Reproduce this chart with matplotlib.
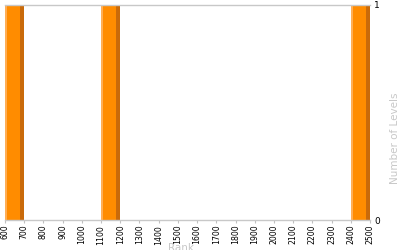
import matplotlib
matplotlib.use('Agg')
import matplotlib.pyplot as plt

# data
rank_start = [600, 1100, 2400]
levels = [1, 1, 1]
bin_width = 100
x_ticks = list(range(600, 2600, 100))

fig = plt.figure(figsize=(4, 2.5), dpi=100)
ax = fig.add_axes([0.0125, 0.12, 0.9125, 0.86])

# each bar drawn as light edge, main body and dark edge to mimic the shading
for x0, h in zip(rank_start, levels):
    ax.bar(x0, h, width=bin_width, align='edge', color='#ff8c00', linewidth=0)
    ax.bar(x0, h, width=bin_width * 0.12, align='edge', color='#ffae55', linewidth=0)
    ax.bar(x0 + bin_width * 0.8, h, width=bin_width * 0.2, align='edge',
           color='#c96a0a', linewidth=0)

ax.set_xlim(600, 2500)
ax.set_ylim(0, 1)
ax.set_xticks(x_ticks)
ax.set_xticklabels([str(t) for t in x_ticks], rotation=90, fontsize=5.6)
ax.tick_params(axis='x', length=2, pad=1.5, color='#c0c0c0')

ax.yaxis.tick_right()
ax.yaxis.set_label_position('right')
ax.set_yticks([0, 1])
ax.tick_params(axis='y', length=0, pad=3, labelsize=6.5)
ax.set_ylabel('Number of Levels', color='#c8c8c8', fontsize=7.5)
ax.yaxis.set_label_coords(1.055, 0.38)
ax.set_xlabel('Rank', color='#c8c8c8', fontsize=7.5)
ax.xaxis.set_label_coords(0.483, -0.106)

for side in ['left', 'right']:
    ax.spines[side].set_visible(False)
for side in ['top', 'bottom']:
    ax.spines[side].set_color('#c8c8c8')
    ax.spines[side].set_linewidth(1)

fig.savefig('out.png', dpi=100)
